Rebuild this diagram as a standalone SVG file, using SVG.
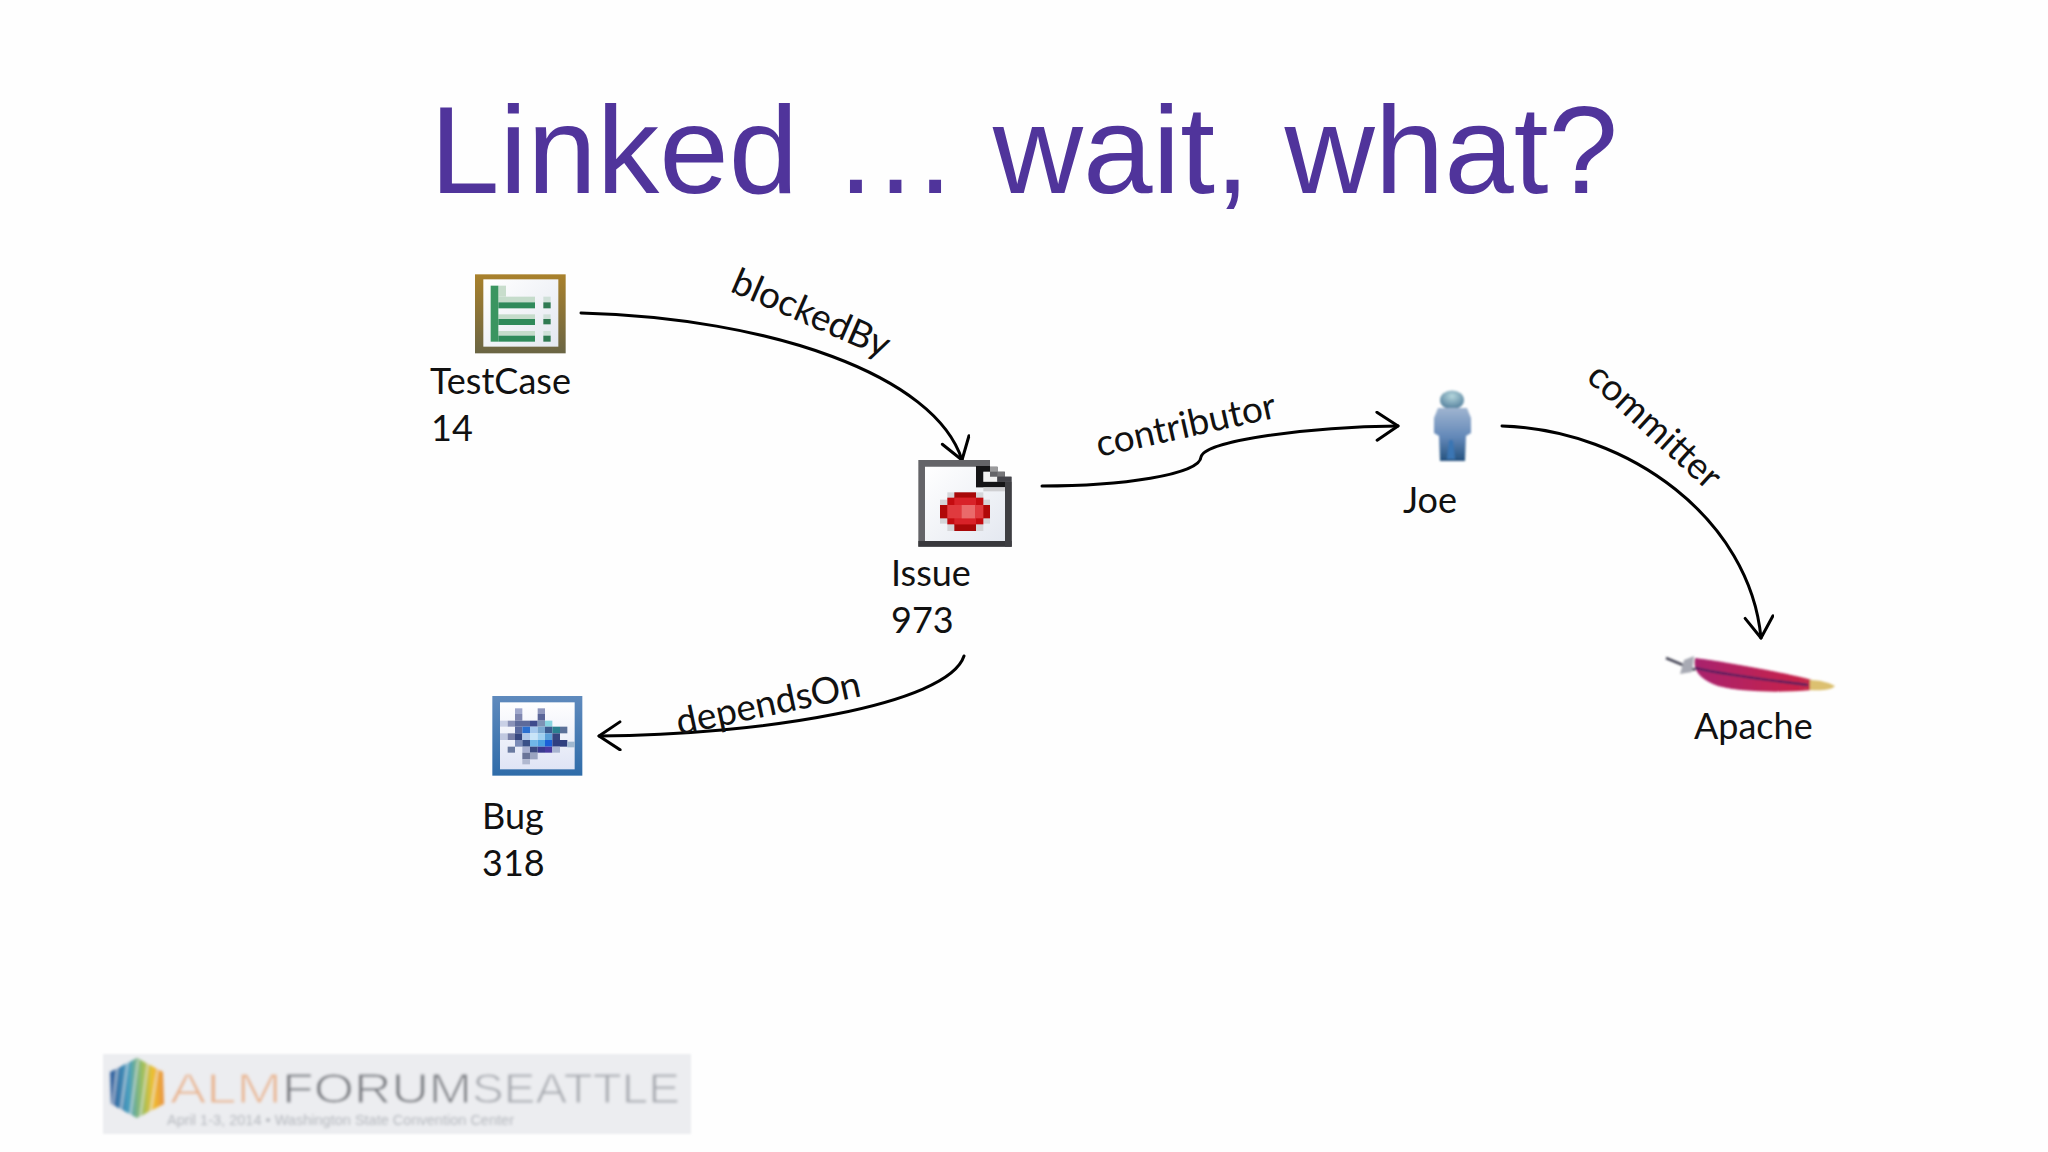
<svg xmlns="http://www.w3.org/2000/svg" width="2048" height="1152" viewBox="0 0 2048 1152">
<style>
.t{font-family:"Lato","Carlito","Open Sans",sans-serif;font-size:36px;fill:#111}
.l{font-family:"Lato","Carlito","Open Sans",sans-serif;font-size:37px;fill:#111}
.c{fill:none;stroke:#000;stroke-width:3px;stroke-linecap:round;stroke-linejoin:round}
.title{font-family:"Liberation Sans",Arial,sans-serif;font-size:125px;fill:#50349b}
.lg{font-family:"Liberation Sans",Arial,sans-serif;font-size:42px;stroke:#ecedf0;stroke-width:1px}
</style>
<defs>
<linearGradient id="gTC" x1="0" y1="0" x2="0" y2="1"><stop offset="0" stop-color="#a9812c"/><stop offset="1" stop-color="#6a6544"/></linearGradient>
<linearGradient id="gPage" x1="0" y1="0" x2="1" y2="1"><stop offset="0" stop-color="#ffffff"/><stop offset="1" stop-color="#e4e8f0"/></linearGradient>
<linearGradient id="gBug" x1="0" y1="0" x2="0" y2="1"><stop offset="0" stop-color="#5f8abd"/><stop offset="1" stop-color="#2f6ca9"/></linearGradient>
<linearGradient id="gBugIn" x1="0" y1="0" x2="0" y2="1"><stop offset="0" stop-color="#ffffff"/><stop offset="1" stop-color="#dfe4f5"/></linearGradient>
<linearGradient id="gMan" x1="0" y1="0" x2="0" y2="1"><stop offset="0" stop-color="#9fb4d0"/><stop offset=".55" stop-color="#6388b8"/><stop offset="1" stop-color="#25527f"/></linearGradient>
<radialGradient id="gHead" cx=".5" cy=".3" r=".7"><stop offset="0" stop-color="#b5d6dc"/><stop offset="1" stop-color="#4f7c9a"/></radialGradient>
<linearGradient id="gFea" x1="0" y1="0" x2="1" y2="0"><stop offset="0" stop-color="#a8206e"/><stop offset=".85" stop-color="#c5204c"/><stop offset="1" stop-color="#c5304c"/></linearGradient>
<linearGradient id="gHex" x1="0" y1="0" x2="1" y2="0"><stop offset="0" stop-color="#2f5c9c"/><stop offset=".35" stop-color="#4aa0c0"/><stop offset=".6" stop-color="#9cc060"/><stop offset=".8" stop-color="#f0c030"/><stop offset="1" stop-color="#e89040"/></linearGradient>
<filter id="b1" x="-10%" y="-10%" width="120%" height="120%"><feGaussianBlur stdDeviation="1"/></filter>
<filter id="b2" x="-10%" y="-30%" width="120%" height="160%"><feGaussianBlur stdDeviation="1.4"/></filter>
<marker id="arr" markerUnits="userSpaceOnUse" markerWidth="40" markerHeight="40" refX="24" refY="15" orient="auto"><path d="M3 1 L24 15 L3 29" fill="none" stroke="#000" stroke-width="3" stroke-linecap="round" stroke-linejoin="round"/></marker>
</defs>
<rect width="2048" height="1152" fill="#fefefe"/>
<text id="title" class="title" x="430" y="193">Linked … wait, what?</text>

<g id="connectors">
<path class="c" marker-end="url(#arr)" d="M581 313 C 770 318 935 375 962 460"/>
<path class="c" marker-end="url(#arr)" d="M1042 486 C 1120 486 1200 475 1201 457 C 1205 440 1310 427 1398 426"/>
<path class="c" marker-end="url(#arr)" d="M1502 426 C 1630 430 1750 520 1761 638"/>
<path class="c" marker-end="url(#arr)" d="M964 656 C 948 705 760 735 599 736"/>
<text class="l" transform="translate(729 291) rotate(23.5)">blockedBy</text>
<text class="l" transform="translate(1099 457) rotate(-12.5)">contributor</text>
<text class="l" transform="translate(1585 379) rotate(42.5)">committer</text>
<text class="l" transform="translate(679 735) rotate(-12)">dependsOn</text>
</g>

<g id="testcase">
<g transform="translate(470 265) scale(.33333)">
<rect x="15" y="28" width="272" height="237" fill="url(#gTC)"/>
<rect x="40" y="43" width="225" height="202" fill="url(#gPage)"/>
<rect x="85" y="62" width="23" height="33" fill="#c8ddcc"/>
<rect x="85" y="95" width="110" height="17" fill="#c5dccb"/>
<rect x="85" y="112" width="110" height="18" fill="#2f8a5a"/>
<rect x="85" y="148" width="110" height="14" fill="#c5dccb"/>
<rect x="85" y="162" width="110" height="18" fill="#2f8a5a"/>
<rect x="85" y="198" width="110" height="14" fill="#c5dccb"/>
<rect x="85" y="212" width="110" height="18" fill="#2f8a5a"/>
<rect x="62" y="62" width="23" height="168" fill="#3a9560"/>
<rect x="220" y="95" width="22" height="17" fill="#cfe0d8"/>
<rect x="220" y="112" width="22" height="18" fill="#2f7a52"/>
<rect x="220" y="148" width="22" height="14" fill="#cfe0d8"/>
<rect x="220" y="162" width="22" height="16" fill="#2f7a52"/>
<rect x="220" y="198" width="22" height="14" fill="#cfe0d8"/>
<rect x="220" y="212" width="22" height="18" fill="#2f7a52"/>
</g>
<text class="t" x="430" y="394">TestCase</text>
<text class="t" x="431" y="441">14</text>
</g>

<g id="issue">
<g transform="translate(915 455) scale(.33333)">
<path d="M10 15 H225 V35 H248 V50 H270 V65 H290 V275 H10 Z" fill="#646468"/>
<rect x="10" y="258" width="280" height="17" fill="#38383c"/>
<rect x="270" y="80" width="20" height="195" fill="#3e3e42"/>
<path d="M30 35 H183 V97 H270 V258 H30 Z" fill="url(#gPage)"/>
<path d="M183 33 H225 V50 H205 V80 H270 V97 H183 Z" fill="#141416"/>
<path d="M205 50 H225 V65 H247 V80 H205 Z" fill="#f2f2f2"/>
<rect x="225" y="35" width="22" height="15" fill="#9a9a9c"/>
<rect x="247" y="50" width="22" height="15" fill="#77777a"/>
<rect x="247" y="65" width="42" height="15" fill="#44444a"/>
<rect x="205" y="97" width="65" height="12" fill="#cfcfd2"/>
<rect x="97" y="112" width="108" height="116" fill="#d5d5d8"/>
<rect x="75" y="134" width="150" height="72" fill="#d5d5d8"/>
<rect x="118" y="112" width="65" height="116" fill="#a80808"/>
<rect x="75" y="150" width="150" height="40" fill="#b00808"/>
<rect x="97" y="128" width="108" height="80" fill="#c40c10"/>
<rect x="118" y="128" width="65" height="80" fill="#d82228"/>
<rect x="97" y="150" width="108" height="40" fill="#e03a3e"/>
<rect x="140" y="150" width="40" height="40" fill="#ea6a6a"/>
</g>
<text class="t" x="891" y="586">Issue</text>
<text class="t" x="891" y="633">973</text>
</g>

<g id="bug">
<g transform="translate(485 690) scale(.33333)">
<rect x="22" y="18" width="270" height="239" fill="url(#gBug)"/>
<rect x="45" y="37" width="224" height="201" fill="url(#gBugIn)"/>
<rect x="90" y="55" width="22" height="17" fill="#a0a8cc"/><rect x="158" y="55" width="22" height="17" fill="#8e96bc"/>
<rect x="90" y="72" width="22" height="20" fill="#7f87b0"/><rect x="158" y="72" width="22" height="20" fill="#5a6598"/>
<rect x="45" y="92" width="23" height="18" fill="#c9d0e6"/><rect x="68" y="92" width="22" height="18" fill="#8a92b8"/><rect x="90" y="92" width="45" height="18" fill="#5d6a9a"/><rect x="135" y="92" width="23" height="18" fill="#3f4a8c"/><rect x="158" y="92" width="22" height="18" fill="#7d92b5"/><rect x="180" y="92" width="22" height="18" fill="#88d4e0"/>
<rect x="90" y="110" width="22" height="20" fill="#5a6a9f"/><rect x="112" y="110" width="23" height="20" fill="#2a6fd0"/><rect x="135" y="110" width="23" height="20" fill="#a5c8ee"/><rect x="158" y="110" width="22" height="20" fill="#7aa8d0"/><rect x="180" y="110" width="22" height="20" fill="#3c5a90"/><rect x="202" y="110" width="23" height="20" fill="#2a8090"/><rect x="225" y="110" width="22" height="20" fill="#5a7098"/>
<rect x="45" y="130" width="23" height="20" fill="#c0c8e0"/><rect x="68" y="130" width="22" height="20" fill="#7880a8"/><rect x="90" y="130" width="22" height="20" fill="#36467f"/><rect x="112" y="130" width="23" height="20" fill="#b0c8e8"/><rect x="135" y="130" width="23" height="20" fill="#c8e4f8"/><rect x="158" y="130" width="22" height="20" fill="#a0d0f0"/><rect x="180" y="130" width="22" height="20" fill="#5aa0d8"/><rect x="202" y="130" width="23" height="20" fill="#36467f"/>
<rect x="90" y="150" width="22" height="20" fill="#7c8cb8"/><rect x="112" y="150" width="23" height="20" fill="#3a5088"/><rect x="135" y="150" width="23" height="20" fill="#70b8e8"/><rect x="158" y="150" width="22" height="20" fill="#4aa0e0"/><rect x="180" y="150" width="22" height="20" fill="#1a60d8"/><rect x="202" y="150" width="45" height="20" fill="#2f3f7f"/><rect x="247" y="155" width="23" height="17" fill="#a0b8d0"/>
<rect x="68" y="170" width="22" height="18" fill="#6a7aa0"/><rect x="112" y="170" width="23" height="18" fill="#a8b0d0"/><rect x="135" y="170" width="23" height="18" fill="#3a4a80"/><rect x="158" y="170" width="22" height="18" fill="#3a3a90"/><rect x="180" y="170" width="22" height="18" fill="#4a3aa0"/><rect x="202" y="170" width="23" height="18" fill="#a8b4d0"/>
<rect x="112" y="188" width="23" height="20" fill="#6a7498"/><rect x="135" y="188" width="23" height="20" fill="#9aa4c0"/>
<rect x="112" y="208" width="23" height="15" fill="#b0b8d0"/>
</g>
<text class="t" x="482" y="829">Bug</text>
<text class="t" x="482" y="876">318</text>
</g>

<g id="joe">
<g filter="url(#b1)">
<ellipse cx="1452" cy="400" rx="12" ry="9.5" fill="url(#gHead)"/>
<path d="M1438 408 H1467 L1471 418 V433 L1466 436 L1465 461 H1440 L1439 436 L1434 433 V418 Z" fill="url(#gMan)"/>
<path d="M1449 440 L1453 440 L1455 459 L1447 459 Z" fill="#3b76b4"/>
</g>
<text class="t" x="1403" y="513">Joe</text>
</g>

<g id="apache">
<g filter="url(#b1)">
<path d="M1695 658 C 1740 664 1790 674 1812 680 L1812 690 C 1780 693 1740 692 1718 686 C 1702 680 1692 672 1695 658 Z" fill="url(#gFea)"/>
<path d="M1810 680 C 1820 680 1830 683 1835 686 C 1832 690 1820 691 1810 690 Z" fill="#dcc070"/>
<path d="M1666 658 L1695 670" stroke="#445" stroke-width="2.5" fill="none"/>
<path d="M1695 668 C 1730 676 1770 680 1808 685" stroke="#44205f" stroke-width="2.2" fill="none"/>
<path d="M1684 660 L1694 656 L1692 672 L1680 674 Z" fill="#a8aab4"/>
</g>
<text class="t" x="1694" y="739">Apache</text>
</g>

<g id="almforum">
<rect x="103" y="1054" width="588" height="80" fill="#ecedf0" filter="url(#b1)"/>
<g filter="url(#b2)">
<path d="M137 1058 L163 1072 L164 1104 L137 1118 L111 1104 L110 1072 Z" fill="url(#gHex)"/>
<path d="M118 1062 L112 1112 M128 1060 L120 1116 M138 1060 L130 1118 M148 1062 L140 1118 M158 1068 L150 1114" stroke="#ecedf0" stroke-width="1.6" fill="none" opacity=".7"/>
<text class="lg" x="170" y="1103" textLength="112" lengthAdjust="spacingAndGlyphs" fill="#e9b58e">ALM</text>
<text class="lg" x="282" y="1103" textLength="190" lengthAdjust="spacingAndGlyphs" fill="#74777d">FORUM</text>
<text class="lg" x="472" y="1103" textLength="208" lengthAdjust="spacingAndGlyphs" fill="#a6a9af">SEATTLE</text>
<text x="167" y="1125" textLength="347" lengthAdjust="spacingAndGlyphs" font-family="Liberation Sans,sans-serif" font-size="15" fill="#b5b8be">April 1-3, 2014  •  Washington State Convention Center</text>
</g>
</g>
</svg>
